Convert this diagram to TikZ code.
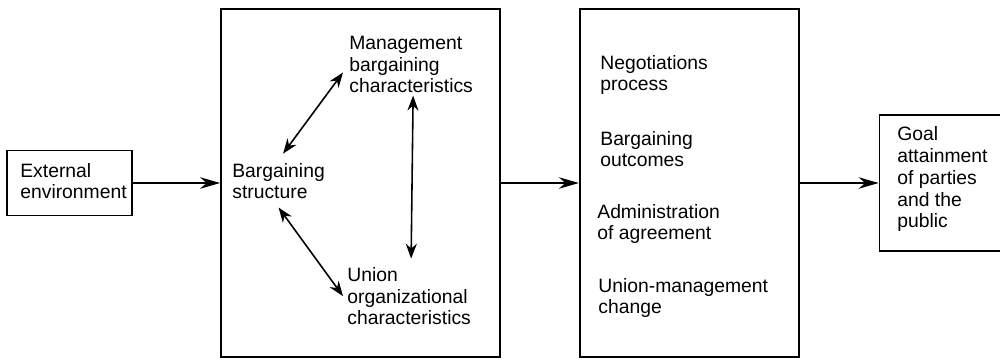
\documentclass[tikz,border=0pt]{standalone}
\usepackage{fontspec}
\setmainfont{Liberation Sans}
\usetikzlibrary{positioning, arrows.meta}

\begin{document}
\begin{tikzpicture}[
    >=Stealth,
    stage/.style={rectangle, draw=black, line width=1pt, inner sep=0pt},
    item/.style={font=\fontsize{11}{12.5}\selectfont, align=left,
        inner sep=0pt, anchor=base west},
    flow/.style={-{Stealth[length=4mm, width=2.3mm]}, line width=1pt},
    link/.style={{Stealth[length=3mm, width=2.2mm]}-{Stealth[length=3mm, width=2.2mm]},
        line width=0.9pt},
]
\useasboundingbox (0,0) rectangle (20,7.16);

% ── Stages ──
\node[stage, minimum width=5.58cm, minimum height=6.96cm] (bargain) at (7.21,3.5) {};
\node[stage, minimum width=2.5cm, minimum height=1.3cm,
    left=1.74cm of bargain] (extenv) {};
\node[stage, minimum width=4.38cm, minimum height=6.96cm,
    right=1.56cm of bargain] (process) {};
\node[stage, minimum width=2.46cm, minimum height=2.72cm,
    right=1.58cm of process] (goal) {};

% ── Texts (placed by the baseline of their last line) ──
\node[item] (extenvtxt) at (0.40,3.18) {External\\environment};

\node[item] (structure) at (4.64,3.18) {Bargaining\\structure};
\node[item] (mgmt) at (6.98,5.30) {Management\\bargaining\\characteristics};
\node[item] (union) at (6.94,0.66) {Union\\organizational\\characteristics};

\node[item] (negot) at (12.00,5.34) {Negotiations\\process};
\node[item] (outcomes) at (12.00,3.82) {Bargaining\\outcomes};
\node[item] (admin) at (11.94,2.36) {Administration\\of agreement};
\node[item] (change) at (11.96,0.88) {Union-management\\change};

\node[item] (goaltxt) at (17.94,2.60) {Goal\\attainment\\of parties\\and the\\public};

% ── Flow between stages ──
\draw[flow] (extenv.east) -- (extenv.east -| bargain.west);
\draw[flow] (bargain.east) -- (process.west);
\draw[flow] (process.east |- goal.west) -- (goal.west);

% ── Links inside the bargaining stage ──
\draw[link] ([shift={(0.09,0.18)}]structure.north) -- ([shift={(-0.12,-0.16)}]mgmt.west);
\draw[link] ([yshift=-0.16cm]structure.south) -- ([xshift=-0.08cm]union.west);
\draw[link] ([shift={(0.04,-0.04)}]mgmt.south) -- ([shift={(0.04,0.16)}]union.north);

\end{tikzpicture}
\end{document}
